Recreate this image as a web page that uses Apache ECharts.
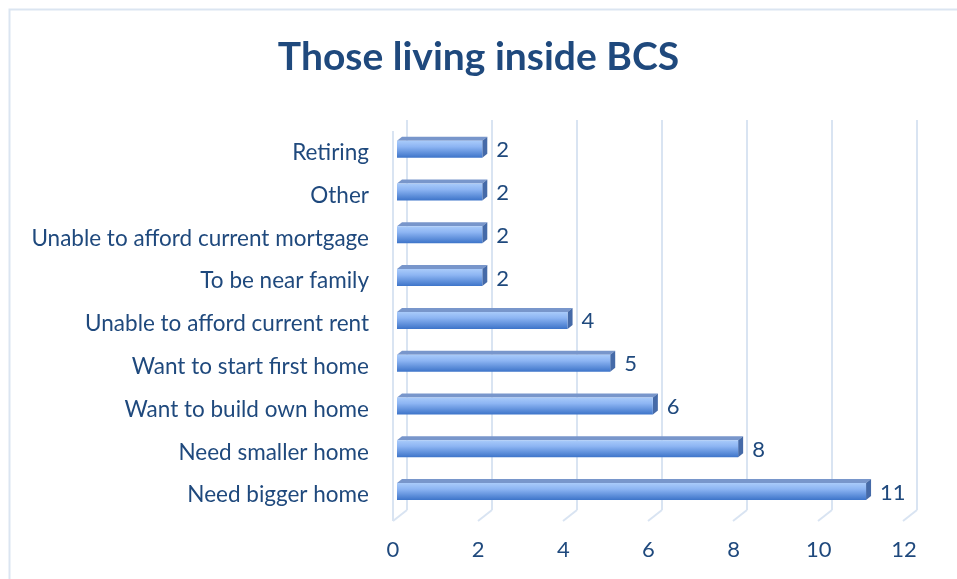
<!DOCTYPE html>
<html>
<head>
<meta charset="utf-8">
<script src="https://cdn.jsdelivr.net/npm/echarts@6/dist/echarts.min.js"></script>
<style>html,body{margin:0;padding:0;background:#fff}#c{width:957px;height:579px}</style>
</head>
<body>
<div id="c"></div>
<script>
var categories = ['Retiring','Other','Unable to afford current mortgage','To be near family','Unable to afford current rent','Want to start first home','Want to build own home','Need smaller home','Need bigger home'];
var values = [2,2,2,2,4,5,6,8,11];
var tickValues = [0,2,4,6,8,10,12];
var titleText = 'Those living inside BCS';

var NAVY = '#1f497d';
var GRID = '#d9e4f2';
var FONT = 'Lato';

var chart = echarts.init(document.getElementById('c'), null, {renderer:'canvas'});

function floorItem(params, api){
  var v = api.value(0);
  var p = api.coord([v, 0]);
  var top = api.coord([v, 1]);
  var children = [{
    type:'line', shape:{x1:p[0], y1:p[1], x2:p[0]-14, y2:p[1]+11},
    style:{stroke:GRID, lineWidth:2}
  }];
  if (v === 0) {
    children.push({type:'line', shape:{x1:p[0]-14, y1:p[1]+11, x2:p[0]-14, y2:top[1]+11}, style:{stroke:GRID, lineWidth:2}});
  }
  return {type:'group', children:children};
}

function barItem(params, api){
  var val = api.value(0);
  var cat = api.value(1);
  var s = api.coord([0, cat]);
  var e = api.coord([val, cat]);
  var h = 17, dx = 5, dy = 4;
  var x0 = s[0], x1 = e[0], yT = s[1] - h/2, yB = s[1] + h/2;
  return {type:'group', children:[
    {type:'polygon', shape:{points:[[x0,yT],[x1,yT],[x1+dx,yT-dy],[x0+dx,yT-dy]]},
      style:{fill:'#7896cb'}},
    {type:'polygon', shape:{points:[[x1,yT],[x1+dx,yT-dy],[x1+dx,yB-dy],[x1,yB]]},
      style:{fill:'#456aa8'}},
    {type:'rect', shape:{x:x0, y:yT, width:x1-x0, height:h},
      style:{fill:new echarts.graphic.LinearGradient(0,0,0,1,[
        {offset:0, color:'#a9cbfa'},
        {offset:0.35, color:'#8db5f3'},
        {offset:1, color:'#3d74c9'}])}},
    {type:'text', x:x1+dx+9, y:s[1]+1,
      style:{text:String(val), fill:NAVY, font:'22px ' + FONT, verticalAlign:'middle', align:'left'}}
  ]};
}

chart.setOption({
  animation:false,
  backgroundColor:'#fff',
  title:{text:titleText, left:'center', top:33,
    textStyle:{color:NAVY, fontFamily:FONT, fontWeight:'bold', fontSize:39}},
  graphic:[{type:'rect', left:7, top:7, shape:{x:0,y:0,width:970,height:600},
    style:{fill:'none', stroke:'#dbe5f1', lineWidth:2}, z:-10}],
  grid:[
    {left:407, right:40, top:120, bottom:69},
    {left:397, right:48.3, top:127.8, bottom:66},
    {left:393, right:53, top:131, bottom:58},
    {left:397, right:48.3, top:131.3, bottom:62.5}
  ],
  xAxis:[
    {gridIndex:0, type:'value', min:0, max:12, interval:2,
      axisLine:{show:false}, axisTick:{show:false}, axisLabel:{show:false},
      splitLine:{show:true, lineStyle:{color:GRID, width:2}}},
    {gridIndex:1, type:'value', min:0, max:12, interval:2, show:false},
    {gridIndex:2, type:'value', min:0, max:12, interval:2,
      axisLine:{show:false}, axisTick:{show:false}, splitLine:{show:false},
      axisLabel:{show:true, margin:18, color:NAVY, fontFamily:FONT, fontSize:22}},
    {gridIndex:3, type:'value', min:0, max:12, show:false}
  ],
  yAxis:[
    {gridIndex:0, type:'value', min:0, max:1, show:false},
    {gridIndex:1, type:'category', data:categories, inverse:true, show:false},
    {gridIndex:2, type:'value', min:0, max:1, show:false},
    {gridIndex:3, type:'category', data:categories, inverse:true,
      axisLine:{show:false}, axisTick:{show:false}, splitLine:{show:false},
      axisLabel:{margin:28, color:NAVY, fontFamily:FONT, fontSize:22.5}}
  ],
  series:[
    {type:'custom', xAxisIndex:0, yAxisIndex:0, renderItem:floorItem,
      data:tickValues.map(function(v){return [v];}), z:1, silent:true},
    {type:'custom', xAxisIndex:1, yAxisIndex:1, renderItem:barItem,
      data:values.map(function(v,i){return [v, i];}), z:3}
  ]
});
</script>
</body>
</html>
